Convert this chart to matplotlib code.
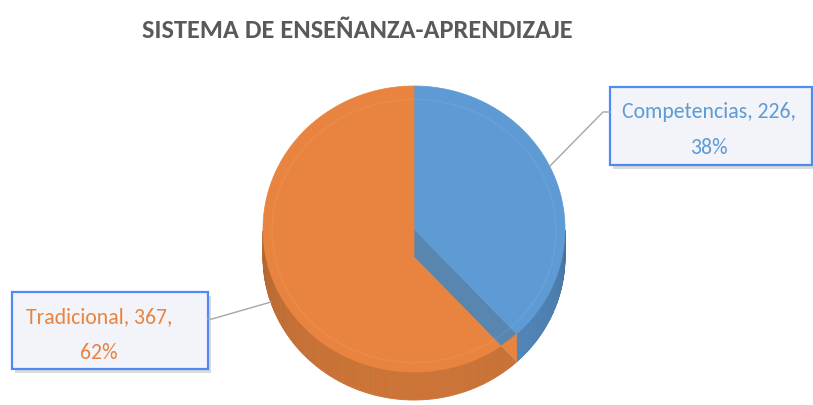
import numpy as np
import matplotlib
matplotlib.use('Agg')
import matplotlib.pyplot as plt
from matplotlib.patches import Polygon, Rectangle, Ellipse

# data
names = ['Competencias', 'Tradicional']
values = [226, 367]
colors = ['#5E9BD4', '#E8843F']
title = 'SISTEMA DE ENSEÑANZA-APRENDIZAJE'

font = ['Carlito', 'DejaVu Sans']

fig = plt.figure(figsize=(8.13, 4.06), dpi=100)
ax = fig.add_axes([0, 0, 1, 1])
ax.set_xlim(0, 813)
ax.set_ylim(406, 0)
ax.axis('off')

# pie geometry (pixels)
cx, cy, rx, ry, depth = 414, 230, 151, 143, 28


def pt(deg, dy=0):
    t = np.radians(deg)
    return cx + rx * np.cos(t), cy - ry * np.sin(t) + dy


def shade(c, f):
    r, g, b = matplotlib.colors.to_rgb(c)
    return (r * f, g * f, b * f)


total = sum(values)
fracs = [v / total for v in values]
# slices go clockwise starting at 12 o'clock
starts, ends = [], []
a = 90.0
for fr in fracs:
    starts.append(a)
    ends.append(a - fr * 360)
    a -= fr * 360

# side walls (only the front half is visible)
for i in range(len(values)):
    seg = np.linspace(ends[i], starts[i], 200)
    seg = ((seg + 180) % 360) - 180
    seg = np.sort(seg[(seg <= 0) & (seg >= -180)])
    for k in range(len(seg) - 1):
        t0, t1 = seg[k], seg[k + 1]
        f = 0.72 + 0.16 * (-np.sin(np.radians((t0 + t1) / 2))) ** 0.5
        quad = [pt(t0), pt(t1), pt(t1, depth), pt(t0, depth)]
        ax.add_patch(Polygon(quad, closed=True, facecolor=shade(colors[i], f),
                             edgecolor=shade(colors[i], f), lw=0.6))

# cut face of the first slice
e = ends[0]
ax.add_patch(Polygon([(cx, cy), pt(e), pt(e, depth), (cx, cy + depth)], closed=True,
                     facecolor='#5886AE', edgecolor='#5886AE', lw=0.5))

# top faces
arc0 = np.linspace(starts[0], ends[0], 200)
ax.add_patch(Polygon([(cx, cy)] + [pt(t) for t in arc0], closed=True,
                     facecolor=colors[0], edgecolor=colors[0], lw=0.5))
arc1 = np.linspace(90, ends[0] + 360, 300)
ax.add_patch(Polygon([(cx, cy + depth)] + [pt(t) for t in arc1] + [pt(ends[0], depth)],
                     closed=True, facecolor=colors[1], edgecolor=colors[1], lw=0.5))
# faint bevel ring on the top face
ax.add_patch(Ellipse((cx, cy + 2), 2 * rx * 0.94, 2 * ry * 0.92, facecolor='none',
                     edgecolor='white', alpha=0.06, lw=1.2))

# title
ax.text(357, 30, title, ha='center', va='center', fontsize=19, fontweight='bold',
        color='#595959', family=font)

# label boxes
boxes = [(610, 88, 202, 78), (12, 293, 196, 77)]
leaders = [[(550, 167), (603, 113), (610, 113)], [(271, 303), (212, 320), (208, 320)]]
text_pos = [(709, 130), (99, 335)]
for i in range(len(values)):
    x, y, w, h = boxes[i]
    ax.add_patch(Rectangle((x + 3, y + 4), w, h, facecolor='#9A9A9A', alpha=0.35,
                           edgecolor='none'))
    ax.add_patch(Rectangle((x, y), w, h, facecolor='#F3F4FA', edgecolor='#4F8BF3', lw=1.6))
    lx, ly = zip(*leaders[i])
    ax.plot(lx, ly, color='#A6A6A6', lw=1)
    pct = round(100 * values[i] / total)
    ax.text(text_pos[i][0], text_pos[i][1], f'{names[i]}, {values[i]},\n{pct}%',
            ha='center', va='center', fontsize=15.7, color=colors[i], family=font,
            linespacing=2.0)

fig.savefig('out.png', dpi=100)
